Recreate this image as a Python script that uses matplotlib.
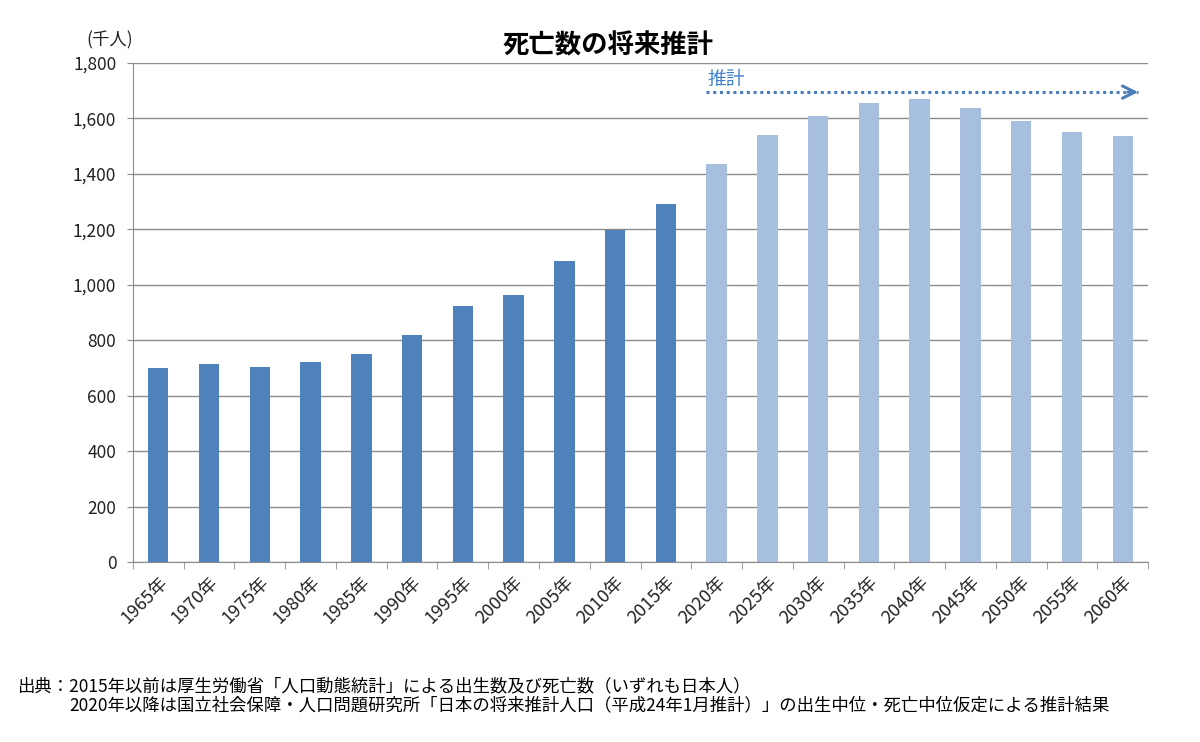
import matplotlib.pyplot as plt
import numpy as np

plt.rcParams['font.family'] = ['Noto Sans CJK JP', 'DejaVu Sans']

years = ['1965年', '1970年', '1975年', '1980年', '1985年', '1990年', '1995年',
         '2000年', '2005年', '2010年', '2015年', '2020年', '2025年', '2030年',
         '2035年', '2040年', '2045年', '2050年', '2055年', '2060年']
deaths = [700, 713, 702, 723, 752, 820, 922, 962, 1084, 1197, 1291,
          1435, 1539, 1607, 1656, 1671, 1637, 1592, 1550, 1535]
n_actual = 11  # 1965-2015 are actual figures, after that projections

dark = '#4F81BD'
light = '#A7BFDE'
arrow_col = '#4A7EBB'
colors = [dark] * n_actual + [light] * (len(years) - n_actual)

fig = plt.figure(figsize=(12, 7.42), dpi=100)
ax = fig.add_axes([0.1108, 0.2426, 0.8459, 0.6725])

x = np.arange(len(years))
ax.bar(x, deaths, width=0.4, color=colors, zorder=3)

ax.set_xlim(-0.5, len(years) - 0.5)
ax.set_ylim(0, 1800)
ax.set_yticks(range(0, 1801, 200))
ax.set_yticklabels(['{:,}'.format(v) for v in range(0, 1801, 200)], fontsize=12.5, color='#222222')
ax.yaxis.grid(True, color='#8c8c8c', linewidth=1.0, zorder=0)
ax.tick_params(axis='y', length=4, color='#8c8c8c', pad=8)

# Excel-like ticks at category boundaries
ax.set_xticks(np.arange(-0.5, len(years), 1.0), minor=True)
ax.set_xticks(x)
ax.set_xticklabels(years, rotation=45, ha='right', rotation_mode='anchor', fontsize=13, color='#222222')
ax.tick_params(axis='x', which='major', length=0, pad=8)
ax.tick_params(axis='x', which='minor', length=5, color='#8c8c8c')

for side in ['top', 'right']:
    ax.spines[side].set_visible(False)
ax.spines['left'].set_color('#8c8c8c')
ax.spines['bottom'].set_color('#8c8c8c')

# projection arrow: dotted shaft + open chevron head
ax.plot([10.8, 19.3], [1695, 1695], linestyle=(0, (1, 1.2)), color=arrow_col, lw=2.2,
        zorder=4, clip_on=False)
ax.annotate('', xy=(19.36, 1695), xytext=(19.05, 1695), annotation_clip=False,
            arrowprops=dict(arrowstyle='->', color=arrow_col, lw=2.2, mutation_scale=22))
ax.text(10.82, 1742, '推計', color='#3F7FCF', fontsize=13.5, va='center', ha='left')

fig.text(0.507, 0.938, '死亡数の将来推計', fontsize=19, fontweight='bold', ha='center', va='center')
fig.text(0.072, 0.946, '(千人)', fontsize=12.5, ha='left', va='center', color='#222222')

fig.text(0.014, 0.075, '出典：2015年以前は厚生労働省「人口動態統計」による出生数及び死亡数（いずれも日本人）',
         fontsize=12.5, ha='left', va='center')
fig.text(0.058, 0.049, '2020年以降は国立社会保障・人口問題研究所「日本の将来推計人口（平成24年1月推計）」の出生中位・死亡中位仮定による推計結果',
         fontsize=12.5, ha='left', va='center')

fig.savefig('out.png', dpi=100)
